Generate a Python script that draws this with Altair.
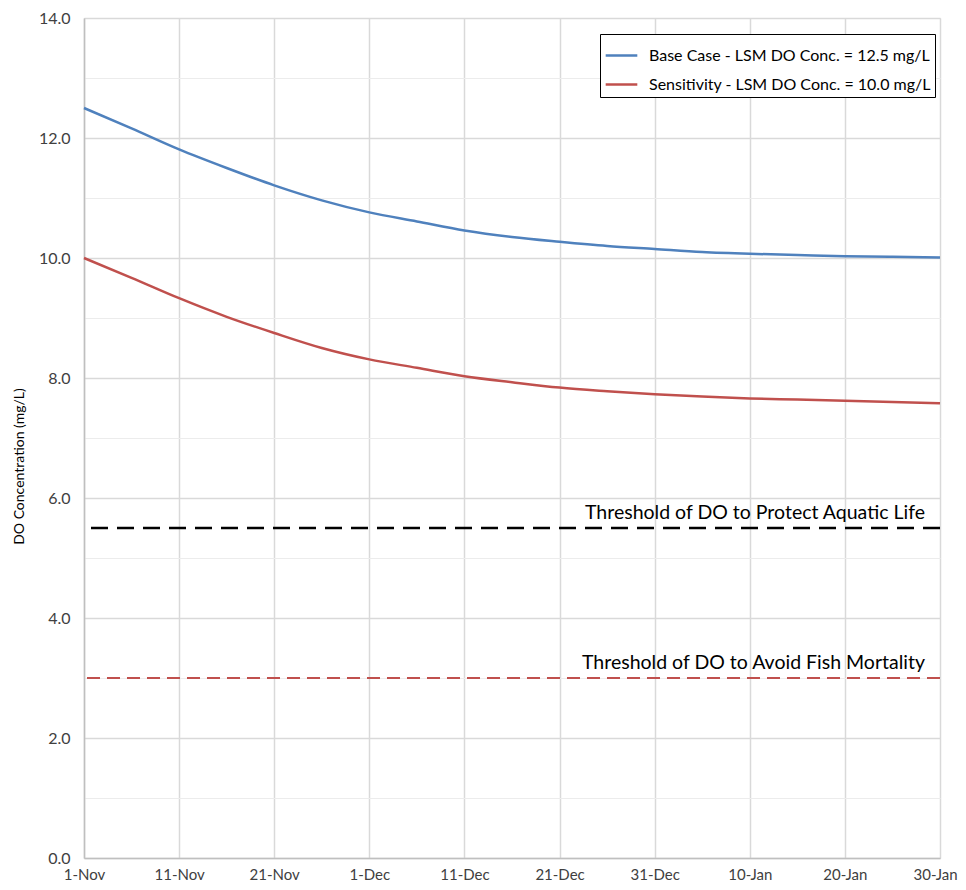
import altair as alt
import pandas as pd

dates = ["2020-11-01", "2020-11-06", "2020-11-11", "2020-11-16", "2020-11-21", "2020-11-26",
         "2020-12-01", "2020-12-06", "2020-12-11", "2020-12-16", "2020-12-21", "2020-12-26",
         "2020-12-31", "2021-01-05", "2021-01-10", "2021-01-15", "2021-01-20", "2021-01-25",
         "2021-01-30"]
base_case = [12.5, 12.16, 11.81, 11.50, 11.21, 10.96, 10.76, 10.61, 10.46, 10.35, 10.27, 10.20,
             10.15, 10.10, 10.07, 10.05, 10.03, 10.02, 10.01]
sensitivity = [10.0, 9.67, 9.33, 9.02, 8.75, 8.50, 8.31, 8.17, 8.03, 7.93, 7.84, 7.78,
               7.73, 7.69, 7.66, 7.64, 7.62, 7.60, 7.58]
series_names = ["Base Case - LSM DO Conc. = 12.5 mg/L", "Sensitivity - LSM DO Conc. = 10.0 mg/L"]
series_colors = ["#4f81bd", "#c0504d"]

thr_values = [5.5, 3.0]
thr_labels = ["Threshold of DO to Protect Aquatic Life", "Threshold of DO to Avoid Fish Mortality"]
thr_label_date = "2021-01-30T00:00:00"

x_tick_dates = [(2020, 11, 1), (2020, 11, 11), (2020, 11, 21), (2020, 12, 1), (2020, 12, 11),
                (2020, 12, 21), (2020, 12, 31), (2021, 1, 10), (2021, 1, 20), (2021, 1, 30)]
y_ticks = [0, 0.5, 1, 1.5, 2, 2.5, 3, 3.5, 4, 4.5, 5, 5.5, 6, 6.5, 7, 7.5, 8, 8.5, 9, 9.5,
           10, 10.5, 11, 11.5, 12, 12.5, 13, 13.5, 14]

FONT = "Lato"

rows = []
for name, vals in zip(series_names, [base_case, sensitivity]):
    for d, v in zip(dates, vals):
        rows.append({"date": d + "T00:00:00", "value": v, "series": name})
df = pd.DataFrame(rows)

thr_df = pd.DataFrame({"value": thr_values, "label": thr_labels,
                       "date": [thr_label_date, thr_label_date]})

x_scale = alt.Scale(domain=[alt.DateTime(year=2020, month=11, date=1),
                            alt.DateTime(year=2021, month=1, date=30)], nice=False)
y_scale = alt.Scale(domain=[0, 14], nice=False)

x_axis = alt.Axis(values=[alt.DateTime(year=y, month=m, date=d) for y, m, d in x_tick_dates],
                  format="%-d-%b", title=None, labelFlush=False, ticks=False,
                  labelFontSize=15, labelPadding=9, labelColor="#404040", labelFont=FONT,
                  labelOffset={"condition": {"test": "datum.label === '30-Jan'", "value": -5},
                               "value": 0},
                  gridColor="#d9d9d9", gridWidth=1.5, domainColor="#bfbfbf", domainWidth=1.5)
y_axis = alt.Axis(values=y_ticks, title="DO Concentration (mg/L)",
                  labelExpr="datum.value % 2 === 0 ? format(datum.value, '.1f') : ''",
                  ticks=False, labelFontSize=16, labelPadding=14, labelColor="#404040",
                  labelFont=FONT, titleFont=FONT, titleFontSize=14, titleFontWeight="normal",
                  titleColor="#000000", titlePadding=12, titleY=448,
                  gridColor={"condition": {"test": "datum.value % 2 === 0", "value": "#d9d9d9"},
                             "value": "#ececec"},
                  gridWidth={"condition": {"test": "datum.value % 2 === 0", "value": 1.5},
                             "value": 1},
                  domainColor="#bfbfbf", domainWidth=1.5)

lines = alt.Chart(df).mark_line(strokeWidth=2.5, interpolate="monotone").encode(
    x=alt.X("date:T", scale=x_scale, axis=x_axis),
    y=alt.Y("value:Q", scale=y_scale, axis=y_axis),
    color=alt.Color("series:N",
                    scale=alt.Scale(domain=series_names, range=series_colors),
                    legend=alt.Legend(title=None, orient="none", legendX=516, legendY=16,
                                      symbolType="stroke", symbolSize=1000,
                                      symbolStrokeWidth=2.5, labelFontSize=16,
                                      labelFont=FONT, labelColor="#000000",
                                      strokeColor="#000000", fillColor="#ffffff",
                                      padding=4, rowPadding=3, labelLimit=400,
                                      labelOffset=10)),
)

thr_black = alt.Chart(thr_df.iloc[[0]]).mark_rule(
    color="#000000", strokeWidth=2.5, strokeDash=[17, 9]).encode(y=alt.Y("value:Q", scale=y_scale))
thr_red = alt.Chart(thr_df.iloc[[1]]).mark_rule(
    color="#c0504d", strokeWidth=2, strokeDash=[13, 7]).encode(y=alt.Y("value:Q", scale=y_scale))

thr_text = alt.Chart(thr_df).mark_text(
    align="right", baseline="alphabetic", dx=-15, dy=-9, fontSize=19.5, font=FONT,
    color="#000000").encode(
    x=alt.X("date:T", scale=x_scale),
    y=alt.Y("value:Q", scale=y_scale),
    text="label:N")

chart = alt.layer(thr_black, thr_red, lines, thr_text).properties(
    width=856, height=840,
    autosize=alt.AutoSizeParams(type="none"),
    padding={"left": 76, "top": 10, "right": 18, "bottom": 30},
).configure_view(stroke="#d9d9d9", strokeWidth=1.5).configure(background="#ffffff")

chart.save("out.html", embed_options={"renderer": "svg", "actions": False})
